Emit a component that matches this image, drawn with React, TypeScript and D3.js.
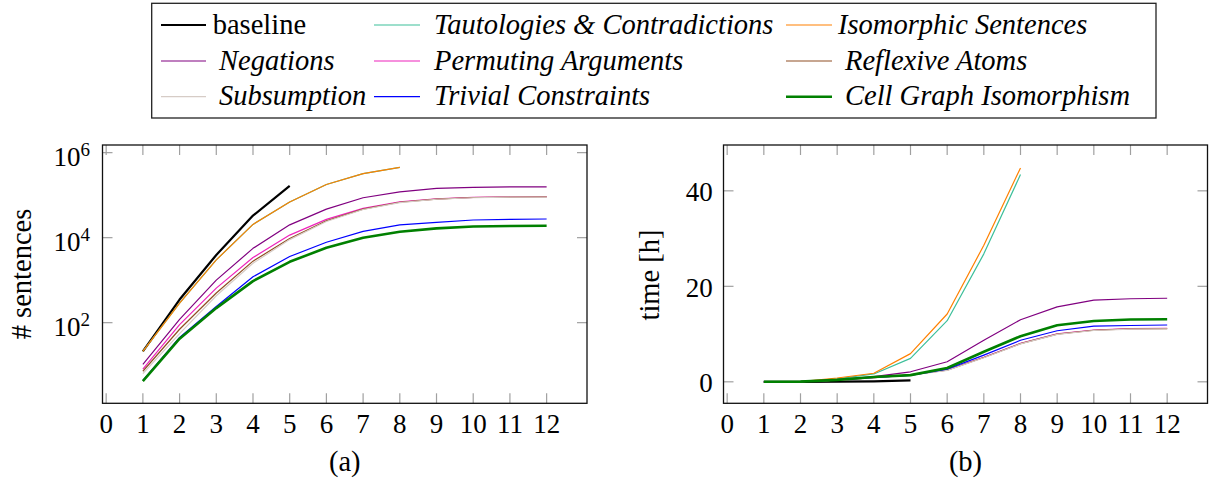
import React from "react";
import * as d3 from "d3";

// ---------- data ----------
const steps = [1, 2, 3, 4, 5, 6, 7, 8, 9, 10, 11, 12];
const xTicks = [0, 1, 2, 3, 4, 5, 6, 7, 8, 9, 10, 11, 12];
const leftYTickExps = [2, 4, 6];
const rightYTicks = [0, 20, 40];

const seriesNames = [
  "baseline",
  "Tautologies & Contradictions",
  "Isomorphic Sentences",
  "Negations",
  "Permuting Arguments",
  "Reflexive Atoms",
  "Subsumption",
  "Trivial Constraints",
  "Cell Graph Isomorphism",
];

// (a) number of sentences
const sentBaseline = [21, 350, 3900, 33000, 165000];
const sentTautologies = [21, 290, 3000, 20500, 69000, 178000, 320000, 450000];
const sentIsomorphic = [21, 290, 3000, 20500, 69000, 178000, 320000, 450000];
const sentNegations = [10.5, 120, 1000, 5600, 20000, 47000, 87000, 120000, 145000, 153000, 156000, 157000];
const sentPermuting = [8.1, 90, 650, 3400, 11500, 27000, 49000, 70000, 82000, 89000, 91000, 92000];
const sentReflexive = [7.2, 70, 500, 2800, 9500, 25000, 47000, 68000, 81000, 88000, 90000, 91000];
const sentSubsumption = [6.3, 55, 430, 2500, 9000, 24000, 46000, 67000, 80000, 87000, 89500, 90000];
const sentTrivial = [4.4, 45, 240, 1200, 3600, 7800, 14000, 20000, 23000, 26000, 27000, 27500];
const sentCellGraph = [4.2, 42, 220, 950, 2700, 5800, 10000, 13800, 16500, 18300, 18800, 19000];

// (b) time in hours
const timeBaseline = [0, 0, 0.02, 0.08, 0.3];
const timeTautologies = [0, 0.05, 0.6, 1.65, 4.9, 12.8, 26.8, 43.4];
const timeIsomorphic = [0, 0.05, 0.8, 1.8, 5.9, 14.2, 28.6, 44.8];
const timeNegations = [0, 0.05, 0.45, 1.1, 2.1, 4.2, 8.7, 13.0, 15.7, 17.1, 17.4, 17.5];
const timePermuting = [0, 0.03, 0.35, 0.85, 1.45, 2.5, 5.15, 8.05, 10.05, 10.85, 11.15, 11.2];
const timeReflexive = [0, 0.03, 0.35, 0.85, 1.45, 2.45, 5.1, 8.0, 10.0, 10.8, 11.1, 11.15];
const timeSubsumption = [0, 0.03, 0.35, 0.85, 1.4, 2.4, 5.05, 7.95, 9.95, 10.75, 11.05, 11.1];
const timeTrivial = [0, 0.03, 0.38, 0.9, 1.35, 2.65, 5.6, 8.7, 10.7, 11.65, 11.8, 11.9];
const timeCellGraph = [0, 0.04, 0.4, 1.0, 1.4, 2.9, 6.3, 9.55, 11.85, 12.75, 13.05, 13.1];

// ---------- styles ----------
const colors = ["#000000", "#3dbf9a", "#ff8000", "#800080", "#ee22bb", "#8f4f24", "#d6ccc6", "#0000ff", "#008000"];
const widths = [2.2, 1.2, 1.2, 1.2, 1.2, 1.2, 1.2, 1.2, 2.6];

const FONT = "'Liberation Serif', 'Times New Roman', serif";
const TICK_FS = 27;
const LABEL_FS = 28.5;
const LEG_FS = 28.5;

const W = 1209;
const H = 480;
const TOP = 145;
const BOTTOM = 403.3;
const TICK_LEN = 10;
const TICK_COLOR = "#a0a0a0";

type Panel = {
  left: number;
  right: number;
  xScale: d3.ScaleLinear<number, number>;
  yScale: (v: number) => number;
};

function Frame({ p, yTicks }: { p: Panel; yTicks: number[] }) {
  const els: React.ReactNode[] = [];
  xTicks.forEach((t) => {
    const x = p.xScale(t);
    els.push(<line key={"xb" + t} x1={x} x2={x} y1={BOTTOM} y2={BOTTOM - TICK_LEN} stroke={TICK_COLOR} strokeWidth={1.2} />);
    els.push(<line key={"xt" + t} x1={x} x2={x} y1={TOP} y2={TOP + TICK_LEN} stroke={TICK_COLOR} strokeWidth={1.2} />);
    els.push(
      <text key={"xl" + t} x={x} y={433} textAnchor="middle" fontFamily={FONT} fontSize={TICK_FS} fill="#000">
        {t}
      </text>
    );
  });
  yTicks.forEach((t, i) => {
    const y = p.yScale(t);
    els.push(<line key={"yl" + i} x1={p.left} x2={p.left + TICK_LEN} y1={y} y2={y} stroke={TICK_COLOR} strokeWidth={1.2} />);
    els.push(<line key={"yr" + i} x1={p.right} x2={p.right - TICK_LEN} y1={y} y2={y} stroke={TICK_COLOR} strokeWidth={1.2} />);
  });
  return (
    <g>
      {els}
      <rect x={p.left} y={TOP} width={p.right - p.left} height={BOTTOM - TOP} fill="none" stroke="#111" strokeWidth={1.3} />
    </g>
  );
}

function Lines({ p, data }: { p: Panel; data: number[][] }) {
  return (
    <g>
      {data.map((vals, i) => {
        const pts = vals.map((v, j) => [steps[j], v] as [number, number]);
        const path = d3
          .line<[number, number]>()
          .x((d) => p.xScale(d[0]))
          .y((d) => p.yScale(d[1]))(pts);
        return (
          <path
            key={i}
            d={path || ""}
            fill="none"
            stroke={colors[i]}
            strokeWidth={widths[i]}
            strokeLinejoin="round"
            strokeLinecap="butt"
          />
        );
      })}
    </g>
  );
}

export default function App() {
  const xDomain: [number, number] = [-0.1, 13.1];

  const leftX = d3.scaleLinear().domain(xDomain).range([102.5, 587]);
  const leftY = d3.scaleLog().domain([Math.pow(10, 0.103), Math.pow(10, 6.18)]).range([BOTTOM, TOP]);
  const rightX = d3.scaleLinear().domain(xDomain).range([723.5, 1207.5]);
  const rightY = d3.scaleLinear().domain([-4.5, 49.6]).range([BOTTOM, TOP]);

  const leftPanel: Panel = { left: 102.5, right: 587, xScale: leftX, yScale: (v) => leftY(v) };
  const rightPanel: Panel = { left: 723.5, right: 1207.5, xScale: rightX, yScale: (v) => rightY(v) };

  const sentData = [
    sentBaseline,
    sentTautologies,
    sentIsomorphic,
    sentNegations,
    sentPermuting,
    sentReflexive,
    sentSubsumption,
    sentTrivial,
    sentCellGraph,
  ];
  const timeData = [
    timeBaseline,
    timeTautologies,
    timeIsomorphic,
    timeNegations,
    timePermuting,
    timeReflexive,
    timeSubsumption,
    timeTrivial,
    timeCellGraph,
  ];

  const leftYTickVals = leftYTickExps.map((e) => Math.pow(10, e));

  // legend layout (3 columns, filled row-wise)
  const legRows = [25, 61, 96.7];
  const legLineX = [
    [161, 206],
    [374, 420],
    [786, 832],
  ];
  const legTextX = [
    [212.7, 219, 219],
    [434, 434, 434],
    [838, 845, 845],
  ];

  return (
    <svg
      width={W}
      height={H}
      viewBox={`0 0 ${W} ${H}`}
      style={{ position: "absolute", left: 0, top: 0, background: "#fff" }}
    >
      <rect x={0} y={0} width={W} height={H} fill="#fff" />

      {/* Legend */}
      <rect x={151.7} y={3.3} width={1156 - 151.7} height={118 - 3.3} fill="#fff" stroke="#222" strokeWidth={1.3} />
      {seriesNames.map((name, i) => {
        const col = i % 3;
        const row = Math.floor(i / 3);
        const y = legRows[row];
        return (
          <g key={name}>
            <line
              x1={legLineX[col][0]}
              x2={legLineX[col][1]}
              y1={y}
              y2={y}
              stroke={colors[i]}
              strokeWidth={widths[i]}
            />
            <text
              x={legTextX[col][row]}
              y={y + 8.5}
              fontFamily={FONT}
              fontSize={LEG_FS}
              fontStyle={i === 0 ? "normal" : "italic"}
              fill="#000"
            >
              {name}
            </text>
          </g>
        );
      })}

      {/* (a) */}
      <Frame p={leftPanel} yTicks={leftYTickVals} />
      <Lines p={leftPanel} data={sentData} />
      {leftYTickExps.map((e) => {
        const y = leftY(Math.pow(10, e));
        return (
          <text key={"ly" + e} x={90} y={y + 13.3} textAnchor="end" fontFamily={FONT} fontSize={TICK_FS} fill="#000">
            10
            <tspan fontSize={19} dy={-10}>
              {e}
            </tspan>
          </text>
        );
      })}
      <text
        transform={`translate(31,274) rotate(-90)`}
        textAnchor="middle"
        fontFamily={FONT}
        fontSize={LABEL_FS}
        fill="#000"
      >
        # sentences
      </text>
      <text x={(102.5 + 587) / 2} y={471} textAnchor="middle" fontFamily={FONT} fontSize={LABEL_FS} fill="#000">
        (a)
      </text>

      {/* (b) */}
      <Frame p={rightPanel} yTicks={rightYTicks} />
      <Lines p={rightPanel} data={timeData} />
      {rightYTicks.map((t) => (
        <text key={"ry" + t} x={712.7} y={rightY(t) + 10.5} textAnchor="end" fontFamily={FONT} fontSize={TICK_FS} fill="#000">
          {t}
        </text>
      ))}
      <text
        transform={`translate(659,275) rotate(-90)`}
        textAnchor="middle"
        fontFamily={FONT}
        fontSize={LABEL_FS}
        fill="#000"
      >
        time [h]
      </text>
      <text x={(723.5 + 1207.5) / 2} y={471} textAnchor="middle" fontFamily={FONT} fontSize={LABEL_FS} fill="#000">
        (b)
      </text>
    </svg>
  );
}
